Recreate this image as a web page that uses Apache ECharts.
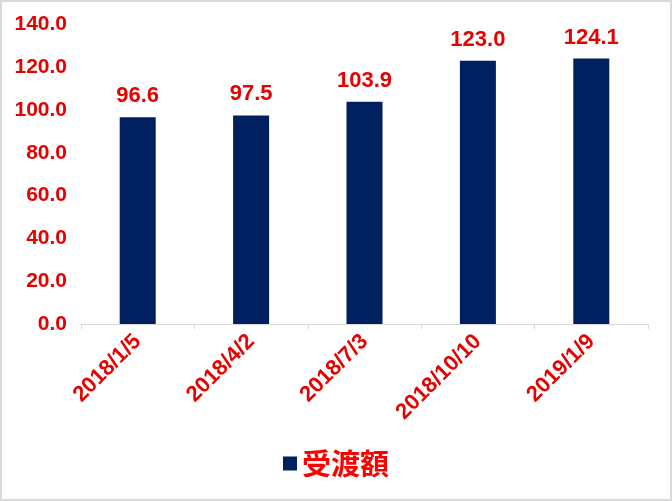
<!DOCTYPE html>
<html>
<head>
<meta charset="utf-8">
<script src="https://cdn.jsdelivr.net/npm/echarts@6/dist/echarts.min.js"></script>
<style>
html,body{margin:0;padding:0;background:#fff;}
#chart{width:672px;height:501px;}
</style>
</head>
<body>
<div id="chart"></div>
<script>
const categories = ['2018/1/5', '2018/4/2', '2018/7/3', '2018/10/10', '2019/1/9'];
const values = [96.6, 97.5, 103.9, 123.0, 124.1];
const seriesName = '受渡額';
const yMin = 0, yMax = 140, yInterval = 20;

const red = '#e60000';
const navy = '#002060';
const font = '"Liberation Sans", Arial, sans-serif';

const chart = echarts.init(document.getElementById('chart'), null, {renderer: 'canvas'});
chart.setOption({
  animation: false,
  backgroundColor: '#fff',
  graphic: [{
    type: 'rect',
    shape: {x: 1, y: 1, width: 670, height: 499},
    style: {fill: 'none', stroke: '#d9d9d9', lineWidth: 2},
    silent: true
  }],
  grid: {left: 81, right: 24, top: 24.5, bottom: 177, containLabel: false},
  legend: {
    bottom: 18,
    left: 'center',
    icon: 'rect',
    itemWidth: 14,
    itemHeight: 14,
    itemGap: 10,
    textStyle: {color: '#ff0000', fontSize: 29, fontWeight: 'bold', fontFamily: '"Noto Sans CJK JP", sans-serif'},
    data: [seriesName]
  },
  xAxis: {
    type: 'category',
    data: categories,
    axisLine: {show: true, lineStyle: {color: '#d9d9d9', width: 1}},
    axisTick: {show: true, alignWithLabel: false, length: 5, lineStyle: {color: '#d9d9d9'}},
    axisLabel: {rotate: 45, margin: 14, color: red, fontSize: 22, fontWeight: 'bold', fontFamily: font, interval: 0}
  },
  yAxis: {
    type: 'value',
    min: yMin,
    max: yMax,
    interval: yInterval,
    axisLine: {show: false},
    axisTick: {show: false},
    splitLine: {show: false},
    axisLabel: {
      color: red, fontSize: 21, fontWeight: 'bold', fontFamily: font, margin: 14,
      formatter: v => v.toFixed(1)
    }
  },
  series: [{
    name: seriesName,
    type: 'bar',
    data: values,
    barWidth: 36,
    itemStyle: {color: navy},
    label: {
      show: true,
      position: 'top',
      distance: 10,
      color: red,
      fontSize: 22,
      fontWeight: 'bold',
      fontFamily: font,
      formatter: p => p.value.toFixed(1)
    }
  }]
});
</script>
</body>
</html>
